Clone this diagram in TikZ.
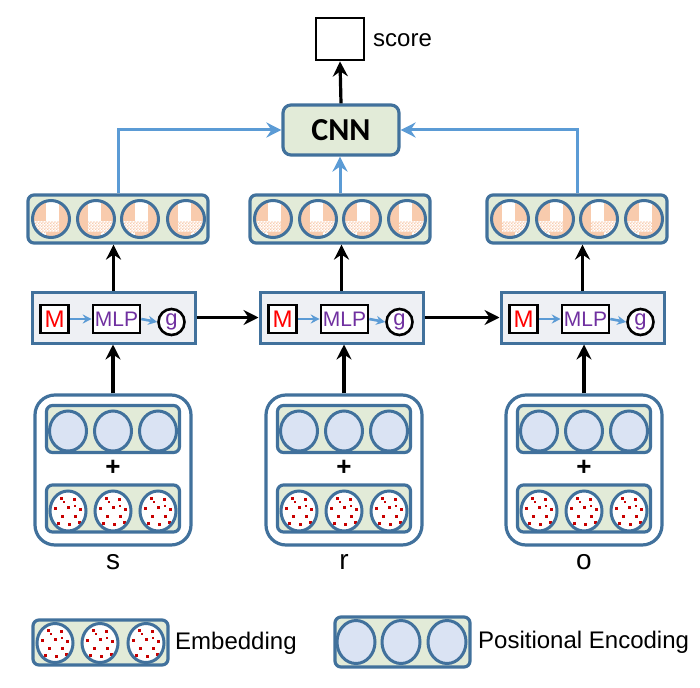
\documentclass[tikz,border=0pt]{standalone}
\usepackage{fontspec}
\setmainfont{Liberation Sans}
\newfontfamily\cnnfont{Carlito}
\usetikzlibrary{arrows.meta,patterns}
\definecolor{bord}{HTML}{41719C}
\definecolor{grn}{HTML}{E2EBD8}
\definecolor{lblue}{HTML}{DAE3F3}
\definecolor{org}{HTML}{F8CBAD}
\definecolor{arrb}{HTML}{5B9BD5}
\definecolor{mred}{HTML}{FF0000}
\definecolor{purp}{HTML}{7030A0}
\definecolor{dotred}{HTML}{C80000}
\definecolor{mlpfill}{HTML}{EEF0F4}
\pgfdeclarepatternformonly{finecheck}{\pgfpointorigin}{\pgfqpoint{3.2pt}{3.2pt}}{\pgfqpoint{3.2pt}{3.2pt}}{%
  \pgfpathrectangle{\pgfpointorigin}{\pgfqpoint{1.65pt}{1.65pt}}%
  \pgfpathrectangle{\pgfqpoint{1.6pt}{1.6pt}}{\pgfqpoint{1.65pt}{1.65pt}}%
  \pgfusepath{fill}}
\tikzset{
  outbox/.style={draw=bord, line width=3.2pt, fill=grn, rounded corners=6pt, minimum width=180pt, minimum height=48pt, inner sep=0pt},
  inbox/.style={draw=bord, line width=3.2pt, fill=grn, rounded corners=6pt, minimum width=133pt, minimum height=47pt, inner sep=0pt},
  groupbox/.style={draw=bord, line width=3.2pt, fill=white, rounded corners=20pt, minimum width=156pt, minimum height=150pt, inner sep=0pt},
  mlpbox/.style={draw=bord, line width=3pt, fill=mlpfill, minimum width=163pt, minimum height=51pt, inner sep=0pt},
  mbox/.style={draw=black, line width=2.6pt, fill=white, minimum width=28pt, minimum height=28pt, inner sep=0pt, text=mred, font=\fontsize{24}{24}\selectfont},
  mlpin/.style={draw=black, line width=2.6pt, fill=white, minimum width=47pt, minimum height=28pt, inner sep=0pt, text=purp, font=\fontsize{21}{21}\selectfont},
  gnode/.style={circle, draw=black, line width=2.6pt, fill=white, minimum size=26pt, inner sep=0pt, text=purp, font=\fontsize{22}{22}\selectfont},
  cnnbox/.style={draw=bord, line width=3.2pt, fill=grn, rounded corners=8pt, minimum width=116pt, minimum height=50pt, inner sep=0pt, font=\cnnfont\bfseries\fontsize{32}{32}\selectfont},
  scorebox/.style={draw=black, line width=2.8pt, fill=white, minimum width=48pt, minimum height=42pt, inner sep=0pt},
  lbl/.style={inner sep=0pt, font=\fontsize{24}{24}\selectfont},
  varlbl/.style={inner sep=0pt, font=\fontsize{28}{28}\selectfont},
  plus/.style={inner sep=0pt, font=\bfseries\fontsize{26}{26}\selectfont},
  blk/.style={draw=black, line width=3.2pt, -{Stealth[length=15pt,width=15pt,inset=5pt]}},
  blu/.style={draw=arrb, line width=3pt, -{Stealth[length=15pt,width=15pt,inset=5pt]}},
  sblu/.style={draw=arrb, line width=2.6pt, -{Stealth[length=9pt,width=9pt,inset=3pt]}},
}
\newcommand\pecirc[4]{\draw[bord, line width=3pt, fill=lblue] (#1,#2) ellipse [x radius=#3pt, y radius=#4pt];}
\newcommand\emcirc[4]{\begin{scope}[shift={(#1,#2)}]
  \fill[white] (0,0) ellipse [x radius=#3pt, y radius=#4pt];
  \foreach \dx/\dy in {-7/-13,6/-12,-13/-3,0/-4,12/-2,-6/5,7/5,-10/12,1/13,11/11}{
    \fill[dotred] (\dx-1.5,\dy-1.5) rectangle ++(3,3);}
  \foreach \dx/\dy in {-4/-9,7/-5}{
    \fill[dotred] (\dx-1.4,\dy-0.6) rectangle ++(2.8,1.2);}
  \draw[bord, line width=3pt] (0,0) ellipse [x radius=#3pt, y radius=#4pt];
\end{scope}}
\newcommand\ckcirc[3]{\begin{scope}[shift={(#1,#2)},xscale=#3]
  \begin{scope}
    \clip (0,0) circle [radius=18.5pt];
    \fill[white] (-20,-20) rectangle (20,20);
    \fill[org] (-20,-20) rectangle (-5,2);
    \fill[org] (8,-20) rectangle (20,20);
    \fill[pattern=finecheck, pattern color=org] (-20,2) rectangle (8,13);
    \fill[org] (-5,13) rectangle (8,20);
  \end{scope}
  \draw[bord, line width=3pt] (0,0) circle [radius=18.5pt];
\end{scope}}
\begin{document}
\begin{tikzpicture}[x=1pt, y=-1pt]
\fill[white] (0,0) rectangle (700,687);
\useasboundingbox (0,0) rectangle (700,687);

% score and CNN
\node[scorebox] (score) at (340,39) {};
\node[lbl, anchor=west] (scorelbl) at (373,40) {score};
\node[cnnbox] (cnn) at (341,130) {CNN};
\draw[blk] (cnn.north) -- (score.south);

% output vectors
\node[outbox] (outL) at (118,219) {};
\node[outbox] (outM) at (340,219) {};
\node[outbox] (outR) at (577,219) {};
\ckcirc{51}{219}{1}\ckcirc{96}{219}{-1}\ckcirc{140}{219}{1}\ckcirc{186}{219}{-1}
\ckcirc{273}{219}{1}\ckcirc{318}{219}{-1}\ckcirc{362}{219}{1}\ckcirc{407}{219}{-1}
\ckcirc{510}{219}{-1}\ckcirc{555}{219}{1}\ckcirc{599}{219}{-1}\ckcirc{644}{219}{1}

\draw[blu] (outL.north) |- (cnn.west);
\draw[blu] (outR.north) |- (cnn.east);
\draw[blu] (outM.north) -- (outM.north |- cnn.south);

% MLP blocks
\foreach \n/\x in {L/113.5, M/341.5, R/582.5}{
  \node[mlpbox] (mlp\n) at (\x,317.5) {};
  \node[mbox] (m\n) at (\x-59,319) {M};
  \node[mlpin] (mlpin\n) at (\x+3,319) {MLP};
  \node[gnode] (g\n) at (\x+58,322) {g};
  \draw[sblu] (m\n.east) -- (mlpin\n.west);
  \draw[sblu] (mlpin\n.east) -- (g\n.west);
}
\draw[blk] (mlpL.east) -- (mlpM.west);
\draw[blk] (mlpM.east) -- (mlpR.west);
\draw[blk] (mlpL.north) -- (mlpL.north |- outL.south);
\draw[blk] (mlpM.north) -- (mlpM.north |- outM.south);
\draw[blk] (mlpR.north) -- (mlpR.north |- outR.south);

% input groups
\foreach \n/\x/\t in {L/113/s, M/344/r, R/584/o}{
  \node[groupbox] (grp\n) at (\x,470) {};
  \node[inbox] (pe\n) at (\x,429) {};
  \node[inbox] (em\n) at (\x,508.5) {};
  \pecirc{\x-45}{431}{18.5}{20}\pecirc{\x}{431}{18.5}{20}\pecirc{\x+45}{431}{18.5}{20}
  \emcirc{\x-45}{511}{18}{20}\emcirc{\x}{511}{18}{20}\emcirc{\x+45}{511}{18}{20}
  \node[plus] (plus\n) at (\x,468) {+};
  \node[varlbl] (var\n) at (\x,562) {\t};
  \draw[blk] (grp\n.north) -- (grp\n.north |- mlp\n.south);
}

% legend
\node[inbox, minimum width=135pt, minimum height=45pt] (legE) at (100.5,642.5) {};
\emcirc{55}{643}{18}{19.5}\emcirc{100}{643}{18}{19.5}\emcirc{146}{643}{18}{19.5}
\node[lbl, anchor=west] (legEt) at (175,643) {Embedding};
\node[inbox, minimum width=135pt, minimum height=50pt] (legP) at (402.5,642) {};
\pecirc{356}{642}{19}{21.5}\pecirc{401}{642}{19}{21.5}\pecirc{447}{642}{19}{21.5}
\node[lbl, anchor=west] (legPt) at (478,642) {Positional Encoding};
\end{tikzpicture}
\end{document}
